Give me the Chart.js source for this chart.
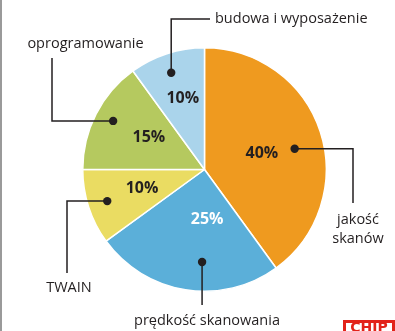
<!DOCTYPE html>
<html lang="pl">
<head>
<meta charset="utf-8">
<title>Co jest najważniejsze w skanerze</title>
<script src="https://cdn.jsdelivr.net/npm/chart.js@4/dist/chart.umd.min.js"></script>
<style>
  html, body { margin: 0; padding: 0; background: #fff; }
  #wrap { position: relative; width: 395px; height: 331px; overflow: hidden; }
</style>
</head>
<body>
<div id="wrap"><canvas id="pie" width="395" height="331"></canvas></div>
<script>
// Slices, clockwise from 12 o'clock
const categories = ['jakość skanów', 'prędkość skanowania', 'TWAIN', 'oprogramowanie', 'budowa i wyposażenie'];
const shares = [40, 25, 10, 15, 10];
const sliceColors = ['#EF9A1F', '#5BAFD9', '#EADC62', '#B5C95F', '#AAD4EB'];
const shareTextColors = ['#231F20', '#FFFFFF', '#231F20', '#231F20', '#231F20'];

const INK = '#231F20';
const FONT = '"Open Sans", "DejaVu Sans", sans-serif';

// Callout geometry per slice: value label (angle from top in deg, radius fraction),
// dot (angle, radius fraction), leader route and caption placement in canvas px.
const callouts = [
  { pct: [74, 0.49], dot: [77, 0.76], route: 'h', elbow: [353, 203],
    lines: ['jakość', 'skanów'], cap: [358, 220], align: 'center' },
  { pct: [177, 0.41], dot: [181.5, 0.76], route: 'v', elbow: [null, 305],
    lines: ['prędkość skanowania'], cap: [207, 321], align: 'center' },
  { pct: [253.5, 0.535], dot: [252, 0.84], route: 'h', elbow: [67, 273],
    lines: ['TWAIN'], cap: [69, 288], align: 'center' },
  { pct: [299.6, 0.525], dot: [298, 0.85], route: 'h', elbow: [52, 58],
    lines: ['oprogramowanie'], cap: [85.5, 44], align: 'center' },
  { pct: [343, 0.61], dot: [341, 0.84], route: 'v', elbow: [210, 19],
    lines: ['budowa i wyposażenie'], cap: [215, 19], align: 'left' }
];

const calloutPlugin = {
  id: 'callouts',
  afterDatasetsDraw(chart) {
    const ctx = chart.ctx;
    const arcs = chart.getDatasetMeta(0).data;
    const values = chart.data.datasets[0].data;
    ctx.save();
    arcs.forEach((arc, i) => {
      const c = callouts[i];
      const { x, y, outerRadius } = arc.getProps(['x', 'y', 'outerRadius'], true);
      const at = (deg, f) => {
        const a = (deg - 90) * Math.PI / 180;
        return [x + Math.cos(a) * outerRadius * f, y + Math.sin(a) * outerRadius * f];
      };
      // percentage inside the slice
      const [px, py] = at(c.pct[0], c.pct[1]);
      ctx.font = 'bold 16px ' + FONT;
      ctx.fillStyle = shareTextColors[i];
      ctx.textAlign = 'center';
      ctx.textBaseline = 'middle';
      ctx.fillText(values[i] + '%', px, py);

      // leader line
      const [dx, dy] = at(c.dot[0], c.dot[1]);
      ctx.strokeStyle = INK;
      ctx.lineWidth = 1.5;
      ctx.beginPath();
      ctx.moveTo(dx, dy);
      if (c.route === 'h') {
        ctx.lineTo(c.elbow[0], dy);
        ctx.lineTo(c.elbow[0], c.elbow[1]);
      } else {
        ctx.lineTo(dx, c.elbow[1]);
        if (c.elbow[0] !== null) ctx.lineTo(c.elbow[0], c.elbow[1]);
      }
      ctx.stroke();

      // dot
      ctx.fillStyle = INK;
      ctx.beginPath();
      ctx.arc(dx, dy, 4.2, 0, Math.PI * 2);
      ctx.fill();

      // caption
      ctx.font = '14.5px ' + FONT;
      ctx.fillStyle = INK;
      ctx.textAlign = c.align;
      c.lines.forEach((t, k) => ctx.fillText(t, c.cap[0], c.cap[1] + k * 19));
    });
    ctx.restore();
  },
  afterDraw(chart) {
    const ctx = chart.ctx;
    ctx.save();
    // frame edge on the left
    ctx.fillStyle = '#9A9A9A';
    ctx.fillRect(0, 0, 2, chart.height);
    // publisher mark in the corner
    ctx.fillStyle = '#E2231A';
    ctx.fillRect(343, 320, 52, 14);
    ctx.fillStyle = '#FFFFFF';
    ctx.fillRect(346, 323, 46, 11);
    ctx.fillStyle = '#E2231A';
    ctx.font = 'bold 14px "DejaVu Sans", sans-serif';
    ctx.textAlign = 'center';
    ctx.textBaseline = 'top';
    ctx.fillText('CHIP', 369, 321);
    ctx.restore();
  }
};

new Chart(document.getElementById('pie'), {
  type: 'pie',
  data: {
    labels: categories,
    datasets: [{
      data: shares,
      backgroundColor: sliceColors,
      borderColor: '#FFFFFF',
      borderWidth: 1.5
    }]
  },
  options: {
    responsive: false,
    animation: false,
    layout: { padding: { left: 82, top: 47, right: 68, bottom: 39 } },
    plugins: {
      legend: { display: false },
      tooltip: { enabled: false }
    }
  },
  plugins: [calloutPlugin]
});
</script>
</body>
</html>
